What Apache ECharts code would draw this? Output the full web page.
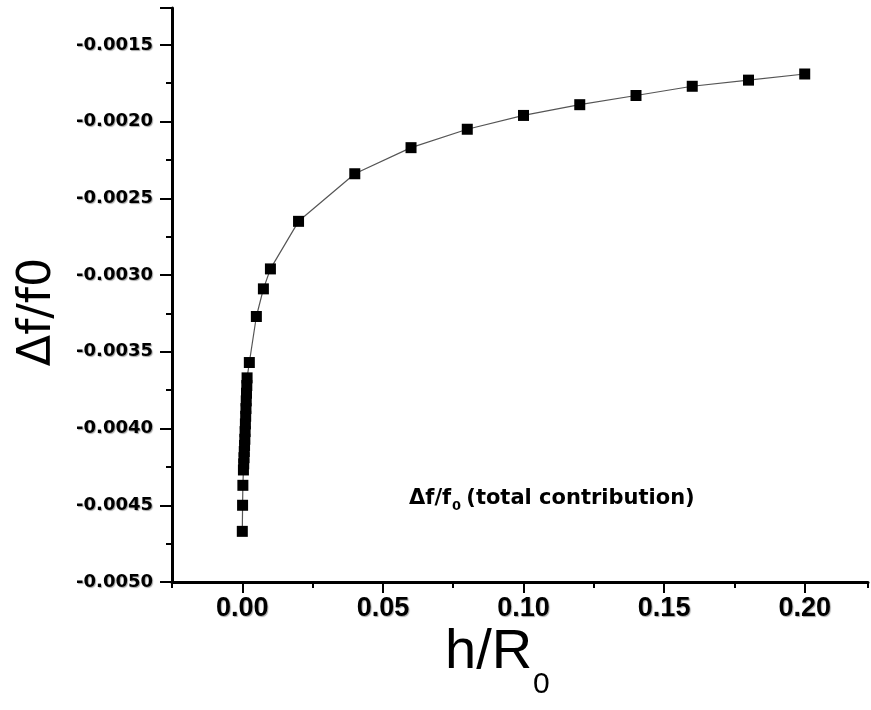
<!DOCTYPE html>
<html>
<head>
<meta charset="utf-8">
<script src="https://cdn.jsdelivr.net/npm/echarts@6/dist/echarts.min.js"></script>
<style>html,body{margin:0;padding:0;background:#fff;}#c{width:871px;height:710px;}</style>
</head>
<body>
<div id="c"></div>
<script>
// h/R0 values
const hR0 = [0.0000, 0.0001, 0.0002, 0.0004, 0.0005, 0.0006, 0.0007, 0.0008, 0.0009, 0.0010,
  0.0011, 0.0012, 0.0013, 0.0014, 0.0015, 0.0016, 0.0017, 0.0025, 0.005, 0.0075,
  0.01, 0.02, 0.04, 0.06, 0.08, 0.10, 0.12, 0.14, 0.16, 0.18, 0.20];
// Δf/f0 values
const dff0 = [-0.00467, -0.00450, -0.00437, -0.00427, -0.00423, -0.00419, -0.00415, -0.00411, -0.00407, -0.00402,
  -0.00397, -0.00392, -0.00387, -0.00382, -0.00377, -0.00372, -0.00367, -0.00357, -0.00327, -0.00309,
  -0.00296, -0.00265, -0.00234, -0.00217, -0.00205, -0.00196, -0.00189, -0.00183, -0.00177, -0.00173, -0.00169];
const xMajorTicks = [0, 0.05, 0.10, 0.15, 0.20];
const yTickLabels = ['-0.0050', '-0.0045', '-0.0040', '-0.0035', '-0.0030', '-0.0025', '-0.0020', '-0.0015'];
const xTickLabels = ['0.00', '0.05', '0.10', '0.15', '0.20'];
const xTitle = 'h/R';
const xTitleSub = '0';
const yTitle = 'Δf/f0';
const noteMain = 'Δf/f';
const noteSub = '0';
const noteRest = ' (total contribution)';

const data = hR0.map((x, i) => [x, dff0[i]]);
const chart = echarts.init(document.getElementById('c'), null, {renderer: 'canvas'});

const shadow = {textShadowColor: 'rgba(0,0,0,0.35)', textShadowBlur: 1, textShadowOffsetX: 1, textShadowOffsetY: 1};

function yLabel(v) {
  const k = Math.round(v / 0.0005);
  if (Math.abs(k * 0.0005 - v) > 1e-9) return '';
  const s = (k * 0.0005).toFixed(4);
  return yTickLabels.indexOf(s) >= 0 ? s : '';
}
function xLabel(v) {
  const k = Math.round(v / 0.05);
  if (Math.abs(k * 0.05 - v) > 1e-9 || k < 0) return '';
  const s = (k * 0.05).toFixed(2);
  return xTickLabels.indexOf(s) >= 0 ? s : '';
}

const gridDef = {left: 172, right: 0, top: 8, bottom: 128, containLabel: false};
const option = {
  animation: false,
  backgroundColor: '#fff',
  grid: gridDef,
  xAxis: [{
    type: 'value', min: -0.025, max: 0.2225, interval: 0.025,
    axisLine: {show: true, onZero: false, lineStyle: {color: '#000', width: 3}},
    axisTick: {show: true, inside: false, length: 6, lineStyle: {color: '#000', width: 2}},
    axisLabel: {show: true, margin: 13, color: '#000', fontFamily: 'Liberation Sans', fontWeight: 'bold', fontSize: 27,
      formatter: xLabel, ...shadow},
    splitLine: {show: false}
  }, {
    type: 'value', min: -0.025, max: 0.2225, interval: 0.025, position: 'bottom',
    axisLine: {show: false, onZero: false},
    axisTick: {show: true, inside: false, length: 11, customValues: xMajorTicks, lineStyle: {color: '#000', width: 2}},
    axisLabel: {show: false},
    splitLine: {show: false}
  }],
  yAxis: [{
    type: 'value', min: -0.005, max: -0.00126, interval: 0.0005,
    axisLine: {show: true, onZero: false, lineStyle: {color: '#000', width: 3}},
    axisTick: {show: true, inside: false, length: 12, lineStyle: {color: '#000', width: 2}},
    axisLabel: {show: true, margin: 19, color: '#000', fontFamily: 'DejaVu Sans', fontWeight: 'bold', fontSize: 18,
      formatter: yLabel, ...shadow},
    splitLine: {show: false}
  }, {
    type: 'value', min: -0.005, max: -0.00126, interval: 0.00025, position: 'left',
    axisLine: {show: false, onZero: false},
    axisTick: {show: true, inside: false, length: 6, lineStyle: {color: '#000', width: 2}},
    axisLabel: {show: false},
    splitLine: {show: false}
  }],
  series: [{
    type: 'line', xAxisIndex: 0, yAxisIndex: 0, data: data,
    symbol: 'rect', symbolSize: 11, showSymbol: true,
    lineStyle: {color: '#555', width: 1.2},
    itemStyle: {color: '#000', borderWidth: 0},
    z: 3
  }],
  graphic: [
    {type: 'text', left: 445, top: 625, style: {text: xTitle, font: '56px "Liberation Sans"', fill: '#000'}},
    {type: 'text', left: 533, top: 670, style: {text: xTitleSub, font: '30px "Liberation Sans"', fill: '#000'}},
    {type: 'text', x: 38, y: 312, rotation: Math.PI / 2,
      style: {text: yTitle, font: '46px "DejaVu Sans"', fill: '#000', align: 'center', verticalAlign: 'middle'}},
    {type: 'text', x: 409, y: 499, style: {text: noteMain, font: 'bold 21px "DejaVu Sans"', fill: '#000', align: 'left', verticalAlign: 'middle'}},
    {type: 'text', x: 452, y: 507, style: {text: noteSub, font: 'bold 13px "DejaVu Sans"', fill: '#000', align: 'left', verticalAlign: 'middle'}},
    {type: 'text', x: 459, y: 499, style: {text: noteRest, font: 'bold 21px "DejaVu Sans"', fill: '#000', align: 'left', verticalAlign: 'middle'}}
  ]
};
chart.setOption(option);
</script>
</body>
</html>
